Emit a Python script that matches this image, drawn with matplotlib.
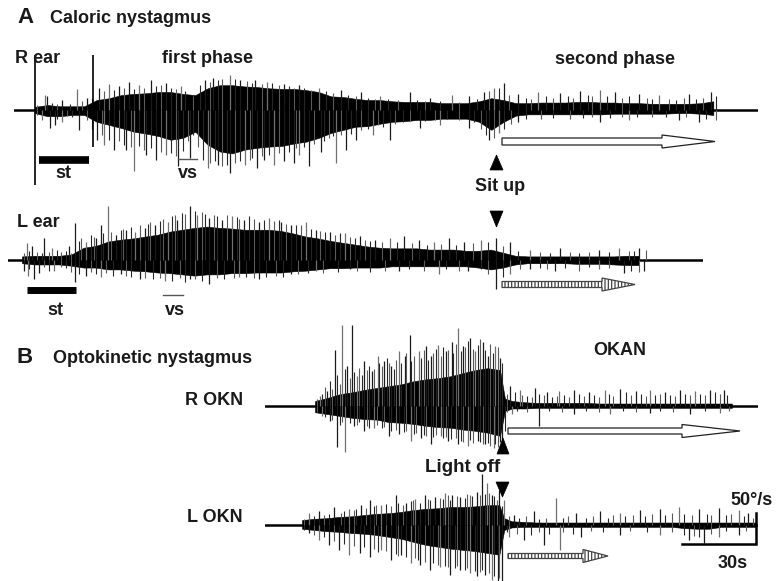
import numpy as np
import matplotlib
matplotlib.use("Agg")
import matplotlib.pyplot as plt
from matplotlib.patches import Polygon

plt.rcParams['font.family'] = ['Liberation Sans', 'DejaVu Sans']
plt.rcParams['hatch.linewidth'] = 0.9

# ---------------- data (time in s, eye velocity in deg/s) ----------------
# R ear caloric nystagmus: envelope sampled every 5 s
R_EAR_T = np.arange(0, 280, 5)
R_EAR_UP = [5, 8, 6, 6, 6, 16, 19, 24, 26, 27, 29, 29, 26, 24, 35, 40, 40, 38, 37, 35,
            34, 34, 32, 29, 22, 21, 18, 16, 16, 14, 13, 13, 13, 11, 11, 11, 14, 19, 16, 11,
            11, 12, 12, 12, 13, 13, 12, 12, 11, 11, 10, 10, 10, 10, 11, 14]
R_EAR_DN = [5, 10, 10, 8, 8, 19, 24, 29, 35, 38, 42, 48, 45, 35, 56, 67, 70, 64, 61, 59,
            58, 54, 51, 45, 37, 32, 27, 26, 22, 19, 18, 16, 16, 14, 14, 14, 19, 32, 19, 9,
            7, 7, 7, 7, 7, 7, 7, 6, 6, 6, 6, 6, 5, 5, 6, 8]
R_EAR_SPK_T = [4, 5, 11, 17, 21, 26, 30, 34, 38, 42, 47, 53, 59, 69, 72, 79, 83, 89, 94, 101,
               107, 115, 124, 132, 140, 152, 160, 169, 176, 182, 186, 190, 196, 204, 213, 221,
               229, 235, 245, 253, 265, 274,
               3, 6, 8, 11, 18, 25, 28, 32, 37, 40, 45, 49, 53, 58, 63, 70, 74, 79, 85, 90, 93,
               97, 101, 105, 107, 111, 116, 122, 126, 130, 137, 144, 156, 164, 176, 184, 188,
               196, 229, 241, 261, 269]
R_EAR_SPK_V = [24, 22, 16, 34, 19, 35, 42, 38, 45, 40, 48, 43, 38, 48, 51, 56, 48, 48, 45, 42,
               40, 35, 32, 29, 22, 29, 19, 24, 22, 29, 35, 43, 26, 29, 27, 30, 32, 29, 26, 24,
               26, 29,
               -16, -29, -24, -19, -32, -48, -56, -64, -64, -99, -72, -80, -72, -91, -77, -93,
               -88, -101, -88, -93, -80, -88, -83, -85, -72, -90, -67, -85, -64, -48, -40, -48,
               -29, -24, -29, -48, -37, -19, -19, -16, -16, -19]
R_EAR_FINE_T = [1, 7, 9, 14, 19, 23, 28, 32, 36, 40, 44, 49, 51, 55, 57, 61, 64, 67, 71, 74,
                76, 81, 86, 88, 92, 96, 99, 103, 105, 109, 112, 118, 121, 127, 130, 135, 138,
                143, 147, 155, 158, 164, 172, 179, 184, 188, 192, 199, 201, 207, 210, 216, 218,
                224, 226, 232, 238, 241, 248, 250, 257, 260, 263, 268, 271, 276,
                1, 9, 13, 15, 21, 23, 27, 30, 34, 36, 39, 42, 44, 47, 51, 55, 57, 60, 62, 64,
                66, 68, 71, 73, 76, 78, 81, 83, 87, 88, 92, 95, 99, 103, 106, 109, 113, 117,
                119, 121, 124, 128, 132, 135, 139, 141, 146, 149, 152, 158, 162, 167, 172, 178,
                181, 183, 186, 190, 193, 199, 205, 210, 217, 222, 226, 233, 238, 244, 250, 256,
                264, 272, 276]
R_EAR_FINE_V = [8, 12, 10, 10, 14, 20, 30, 32, 35, 34, 36, 38, 40, 36, 34, 30, 22, 40, 45, 48,
                50, 50, 46, 44, 42, 44, 40, 38, 36, 36, 32, 30, 28, 24, 22, 20, 18, 18, 16, 16,
                14, 14, 13, 18, 30, 36, 24, 20, 18, 22, 20, 22, 20, 24, 22, 22, 20, 22, 20, 18,
                18, 16, 20, 18, 20, 22,
                -8, -14, -10, -12, -16, -30, -40, -48, -50, -56, -60, -58, -65, -62, -68, -70,
                -75, -66, -50, -40, -60, -80, -85, -82, -90, -88, -85, -82, -80, -78, -75, -72,
                -70, -68, -62, -60, -55, -50, -45, -42, -40, -38, -32, -30, -25, -28, -22, -20,
                -18, -17, -16, -15, -16, -20, -30, -40, -45, -30, -22, -14, -14, -13, -14, -13,
                -12, -13, -12, -12, -11, -11, -11, -14, -16]
R_EAR_MARK_T = [0, 23.5]
R_EAR_MARK_LO = [-121, -60]
R_EAR_MARK_HI = [89, 89]

# L ear caloric nystagmus
L_EAR_T = np.arange(0, 255, 5)
L_EAR_UP = [5, 6, 6, 6, 8, 19, 22, 29, 32, 34, 37, 40, 45, 48, 51, 53, 51, 50, 48, 48,
            48, 46, 42, 37, 34, 30, 27, 24, 21, 19, 18, 18, 18, 16, 16, 16, 14, 14, 16, 11,
            6, 5, 5, 5, 5, 5, 5, 5, 5, 6, 6]
L_EAR_DN = [6, 8, 8, 8, 10, 13, 13, 16, 16, 18, 19, 21, 22, 24, 26, 24, 24, 22, 22, 21,
            21, 21, 19, 18, 16, 14, 14, 13, 13, 13, 11, 11, 11, 11, 11, 11, 11, 13, 16, 13,
            8, 6, 6, 6, 6, 7, 7, 7, 8, 9, 9]
L_EAR_SPK_T = [2, 4, 9, 12, 19, 21.5, 26, 30, 32, 35, 38, 42, 46, 50, 54, 59, 63, 68, 71, 76,
               81, 85, 90, 96, 100, 105, 109, 115, 119, 125, 131, 137, 143, 149, 155, 161, 167,
               173, 179, 186, 192, 198, 206, 218, 234, 242, 250,
               1, 2.4, 5, 7, 13, 21.5, 26, 32, 40, 48, 58, 68, 76, 88, 96, 109, 119, 133, 153,
               169, 181, 192, 198, 206, 216, 234, 244, 252]
L_EAR_SPK_V = [27, 22, 34, 19, 21, 59, 29, 35, 56, 86, 40, 48, 45, 51, 56, 61, 64, 86, 72, 67,
               64, 70, 64, 61, 67, 61, 56, 61, 48, 45, 42, 38, 32, 35, 38, 32, 29, 35, 29, 32,
               35, 29, 16, 19, 16, 19, 19,
               -19, -26, -32, -22, -18, -37, -26, -29, -24, -32, -35, -32, -40, -29, -32, -24,
               -19, -16, -19, -24, -19, -48, -24, -16, -19, -16, -22, -19]
L_EAR_FINE_T = [1, 3, 6, 8, 11, 14, 16, 18, 20, 23, 24, 28, 29, 33, 36, 40, 41, 44, 48, 51,
                52, 56, 57, 61, 62, 65, 66, 70, 73, 74, 78, 79, 83, 87, 88, 92, 94, 98, 102,
                104, 107, 111, 113, 117, 121, 123, 127, 129, 133, 135, 139, 141, 146, 152, 158,
                164, 170, 176, 183, 189, 195, 201, 210, 214, 222, 226, 230, 238, 246, 248, 253,
                3, 9, 11, 16, 18, 20, 23, 28, 30, 34, 37, 42, 44, 50, 53, 56, 61, 64, 66, 70,
                73, 79, 82, 86, 91, 94, 99, 103, 106, 112, 116, 122, 128, 136, 141, 147, 157,
                163, 172, 177, 186, 189, 195, 202, 210, 213, 220, 226, 230, 238, 247, 250]
L_EAR_FINE_V = [10, 14, 12, 10, 12, 16, 12, 14, 10, 30, 35, 40, 36, 42, 45, 48, 50, 52, 56, 58,
                60, 62, 66, 70, 72, 75, 74, 78, 76, 74, 72, 70, 72, 68, 66, 70, 66, 64, 62, 64,
                58, 55, 56, 50, 46, 44, 40, 42, 36, 34, 32, 30, 28, 28, 26, 24, 25, 24, 26, 28,
                22, 14, 12, 10, 12, 10, 12, 12, 14, 14, 16,
                -16, -12, -18, -12, -14, -20, -24, -20, -24, -22, -26, -26, -28, -30, -32, -30,
                -34, -30, -36, -32, -34, -30, -32, -30, -28, -30, -28, -26, -28, -24, -22, -22,
                -20, -18, -20, -18, -16, -18, -16, -18, -16, -24, -28, -16, -14, -16, -14, -18,
                -12, -14, -18, -20]

# R optokinetic nystagmus (light off at ~76 s)
R_OKN_T = [0, 5, 10, 15, 20, 25, 30, 35, 40, 45, 50, 55, 60, 65, 70, 75, 77, 80, 85, 90,
           95, 100, 105, 110, 115, 120, 125, 130, 135, 140, 145, 150, 155, 160, 165, 169]
R_OKN_UP = [8, 13, 19, 22, 26, 29, 32, 35, 40, 43, 45, 48, 53, 58, 61, 58, 12, 8, 6, 5,
            5, 5, 5, 5, 4, 4, 4, 4, 4, 4, 4, 4, 4, 4, 4, 4]
R_OKN_DN = [10, 13, 16, 19, 21, 22, 26, 27, 29, 32, 34, 35, 38, 40, 43, 48, 8, 4, 4, 3,
            3, 3, 3, 3, 3, 3, 3, 3, 3, 3, 3, 3, 3, 3, 3, 3]
R_OKN_SPK_T = [2, 5, 8, 11, 13, 15, 17, 20, 23, 25.5, 28, 31, 34, 36.5, 38.5, 42, 45, 47, 50,
               53, 55.5, 58, 60, 63, 65, 68, 70, 73, 75, 79, 83, 89, 94, 99, 105, 111, 117.5,
               123.5, 130, 136, 142, 148, 154, 160, 166,
               3, 6, 9, 12, 16, 20, 24, 30, 34, 39, 43, 47, 51, 54, 58, 62, 66, 69, 72.5, 75,
               76, 80, 91, 105, 119.5, 136, 152, 164]
R_OKN_SPK_V = [16, 24, 90, 130, 64, 130, 48, 72, 56, 80, 72, 64, 88, 80, 114, 88, 96, 80, 99,
               88, 104, 126, 96, 110, 88, 104, 80, 96, 77, 32, 26, 29, 22, 24, 26, 22, 26, 27,
               24, 26, 22, 26, 24, 26, 26,
               -16, -24, -66, -74, -32, -40, -35, -48, -45, -56, -51, -61, -48, -56, -61, -64,
               -56, -61, -67, -58, -59, -13, -32, -13, -13, -11, -13, -11]
R_OKN_FINE_T = [1, 3, 4, 6, 7, 9, 10, 12, 14, 16, 18, 19, 21, 22, 24, 26, 27, 29, 30, 32,
                33, 35, 37, 39, 40, 43, 44, 46, 48, 49, 51, 52, 54, 56, 57, 59, 61, 62, 64, 66,
                67, 69, 71, 72, 74, 76, 78, 81, 84, 86, 88, 91, 93, 96, 98, 101, 103, 107, 109,
                113, 115, 119, 121, 126, 128, 132, 134, 138, 140, 144, 146, 150, 152, 156, 158,
                162, 164, 167,
                1, 4, 7, 10, 11, 14, 17, 18, 21, 22, 25, 27, 28, 31, 33, 36, 37, 40, 41, 44,
                45, 48, 49, 52, 53, 55, 57, 59, 60, 63, 64, 67, 68, 70, 71, 73, 74, 77, 78, 82,
                86, 95, 100, 110, 115, 125, 130, 140, 145, 158, 168]
R_OKN_FINE_V = [12, 20, 30, 40, 28, 50, 35, 60, 45, 55, 62, 50, 58, 65, 60, 70, 64, 78, 70, 60,
                75, 70, 85, 72, 80, 78, 90, 74, 85, 92, 80, 95, 90, 85, 100, 88, 95, 105, 92, 98,
                108, 90, 100, 85, 95, 70, 20, 22, 18, 16, 14, 20, 18, 14, 16, 18, 14, 20, 16,
                18, 14, 20, 16, 22, 18, 20, 16, 18, 20, 18, 16, 20, 18, 20, 18, 22, 20, 18,
                -10, -18, -22, -30, -25, -28, -30, -26, -32, -35, -30, -36, -34, -40, -38, -42,
                -40, -45, -44, -46, -48, -50, -46, -52, -50, -54, -52, -56, -58, -55, -60, -58,
                -62, -60, -64, -62, -66, -40, -10, -8, -10, -8, -9, -8, -10, -8, -9, -8, -10,
                -8, -8]

# L optokinetic nystagmus
L_OKN_T = [0, 5, 10, 15, 20, 25, 30, 35, 40, 45, 50, 55, 60, 65, 70, 75, 80, 82, 85, 90,
           95, 100, 105, 110, 115, 120, 125, 130, 135, 140, 145, 150, 155, 160, 165, 170,
           175, 180, 184]
L_OKN_UP = [8, 10, 11, 13, 14, 16, 18, 19, 21, 24, 26, 27, 29, 29, 30, 32, 32, 11, 6, 5,
            4, 4, 4, 4, 4, 4, 4, 4, 4, 4, 4, 4, 4, 4, 4, 4, 4, 4, 4]
L_OKN_DN = [6, 8, 10, 11, 13, 14, 16, 19, 22, 27, 32, 35, 38, 40, 42, 45, 48, 8, 4, 3,
            3, 3, 3, 3, 3, 3, 3, 3, 3, 3, 3, 3, 5, 6, 6, 3, 3, 3, 3]
L_OKN_SPK_T = [3, 7, 13, 19, 24, 27.5, 32, 38, 42, 46, 50, 54, 58, 61, 64, 68, 71, 73, 75, 77,
               80, 82, 86, 94, 103, 111, 121, 129, 137, 145, 153, 161, 169, 177, 181,
               3, 7, 11, 15, 19, 23.5, 27.5, 32, 36, 40, 44, 48, 52, 56, 60, 64, 68, 71, 74,
               77, 79.5, 81, 84, 90, 98, 104.5, 113, 129, 145, 157, 163, 169, 177]
L_OKN_SPK_V = [19, 22, 29, 26, 32, 40, 32, 48, 35, 42, 48, 45, 51, 48, 45, 48, 54, 83, 67, 48,
               56, 40, 16, 22, 43, 19, 22, 19, 24, 26, 29, 26, 27, 24, 19,
               -13, -24, -32, -40, -48, -45, -51, -40, -56, -48, -61, -64, -72, -67, -80, -72,
               -77, -83, -80, -88, -91, -91, -19, -24, -32, -40, -19, -16, -16, -24, -29, -19,
               -16]
L_OKN_FINE_T = [1, 5, 9, 11, 16, 17, 21, 22, 26, 29, 30, 34, 36, 39, 41, 44, 45, 48, 51, 52,
                56, 57, 59, 60, 63, 66, 67, 69, 72, 74, 76, 78, 79, 81, 84, 88, 91, 96, 99, 106,
                108, 115, 118, 124, 126, 131, 134, 139, 142, 147, 150, 155, 158, 164, 166, 172,
                174, 179, 183,
                1, 5, 9, 13, 17, 21, 25, 29, 31, 34, 38, 39, 42, 46, 47, 50, 53, 55, 58, 59,
                62, 63, 66, 67, 70, 72, 73, 76, 78, 80, 83, 87, 93, 96, 100, 106, 110, 117, 122,
                133, 140, 150, 155, 159, 161, 166, 172, 180]
L_OKN_FINE_V = [10, 14, 16, 18, 20, 22, 24, 26, 28, 30, 32, 34, 30, 36, 32, 38, 40, 36, 42, 40,
                44, 42, 48, 40, 46, 44, 50, 46, 48, 50, 52, 46, 40, 30, 14, 12, 14, 10, 12, 12,
                14, 12, 14, 12, 16, 14, 16, 14, 18, 16, 20, 18, 16, 18, 16, 16, 18, 14, 12,
                -8, -16, -20, -26, -30, -34, -36, -38, -44, -42, -46, -50, -52, -54, -56, -60,
                -62, -64, -66, -68, -70, -66, -72, -70, -74, -76, -72, -78, -82, -86, -12, -14,
                -16, -12, -14, -12, -14, -10, -12, -10, -12, -12, -16, -18, -20, -14, -10, -10]

SCALE_T = 30   # s
SCALE_V = 50   # deg/s

# ---------------- layout ----------------
W, H = 781, 581
fig = plt.figure(figsize=(W / 100, H / 100), dpi=100)
fig.patch.set_facecolor('white')
PX_S = 74 / 30.0      # pixels per second
PX_V = 31 / 50.0      # pixels per deg/s


def trace_ax(x0, base, t_lo, t_hi, v_lo, v_hi):
    left = x0 + t_lo * PX_S
    right = x0 + t_hi * PX_S
    top = base - v_hi * PX_V
    bottom = base - v_lo * PX_V
    ax = fig.add_axes([left / W, 1 - bottom / H, (right - left) / W, (bottom - top) / H])
    ax.set_xlim(t_lo, t_hi)
    ax.set_ylim(v_lo, v_hi)
    ax.axis('off')
    return ax


def draw_trace(ax, t, up, dn, spk_t, spk_v, fine_t, fine_v):
    ax.axhline(0, color='black', lw=1.8, zorder=1)
    ax.fill_between(t, np.asarray(up), -np.asarray(dn), color='black', lw=0.4, zorder=2)
    cols = ['#1a1a1a' if i % 3 else '#707070' for i in range(len(spk_t))]
    ax.vlines(spk_t, 0, spk_v, colors=cols, lw=0.9, zorder=3)
    cols2 = ['#262626' if i % 2 else '#5a5a5a' for i in range(len(fine_t))]
    ax.vlines(fine_t, 0, fine_v, colors=cols2, lw=0.8, zorder=3)


ax1 = trace_ax(35, 110, -21 / PX_S, 723 / PX_S, -125, 95)
draw_trace(ax1, R_EAR_T, R_EAR_UP, R_EAR_DN, R_EAR_SPK_T, R_EAR_SPK_V,
           R_EAR_FINE_T, R_EAR_FINE_V)
ax1.vlines(R_EAR_MARK_T, R_EAR_MARK_LO, R_EAR_MARK_HI, colors='black', lw=1.2, zorder=4)

ax2 = trace_ax(22, 259.5, -14 / PX_S, 681 / PX_S, -60, 95)
draw_trace(ax2, L_EAR_T, L_EAR_UP, L_EAR_DN, L_EAR_SPK_T, L_EAR_SPK_V,
           L_EAR_FINE_T, L_EAR_FINE_V)

ax3 = trace_ax(315, 406, -50 / PX_S, 443 / PX_S, -80, 135)
draw_trace(ax3, R_OKN_T, R_OKN_UP, R_OKN_DN, R_OKN_SPK_T, R_OKN_SPK_V,
           R_OKN_FINE_T, R_OKN_FINE_V)

t_end = L_OKN_T[-1]
ax4 = trace_ax(302, 525, -37 / PX_S, t_end + 1, -95, 90)
draw_trace(ax4, L_OKN_T, L_OKN_UP, L_OKN_DN, L_OKN_SPK_T, L_OKN_SPK_V,
           L_OKN_FINE_T, L_OKN_FINE_V)
ax4.plot([t_end - SCALE_T, t_end, t_end], [-31, -31, -31 + SCALE_V],
         color='black', lw=1.8, solid_joinstyle='miter', zorder=5)

# ---------------- overlay annotations (pixel coordinates) ----------------
ov = fig.add_axes([0, 0, 1, 1])
ov.set_xlim(0, W)
ov.set_ylim(H, 0)
ov.axis('off')

bold = dict(fontweight='bold', color='#1a1a1a')
ov.text(17, 23, 'A', fontsize=16, **bold)
ov.text(50, 23, 'Caloric nystagmus', fontsize=13, **bold)
ov.text(15, 63, 'R ear', fontsize=13, **bold)
ov.text(162, 63, 'first phase', fontsize=13, **bold)
ov.text(555, 64, 'second phase', fontsize=13, **bold)
ov.text(55, 178, 'st', fontsize=13, **bold)
ov.text(178, 178, 'vs', fontsize=13, **bold)
ov.text(500, 191, 'Sit up', fontsize=13, ha='center', **bold)
ov.text(17, 227, 'L ear', fontsize=13, **bold)
ov.text(47, 315, 'st', fontsize=13, **bold)
ov.text(165, 315, 'vs', fontsize=13, **bold)
ov.text(17, 363, 'B', fontsize=16, **bold)
ov.text(53, 363, 'Optokinetic nystagmus', fontsize=13, **bold)
ov.text(593, 355, 'OKAN', fontsize=13, **bold)
ov.text(243, 405, 'R OKN', fontsize=13, ha='right', **bold)
ov.text(243, 522, 'L OKN', fontsize=13, ha='right', **bold)
ov.text(463, 472, 'Light off', fontsize=13.5, ha='center', **bold)
ov.text(730, 505, '50°/s', fontsize=13, **bold)
ov.text(718, 568, '30s', fontsize=13, **bold)

# stimulus bars
ov.plot([39, 89], [160, 160], color='black', lw=5.5, solid_capstyle='butt')
ov.plot([178, 197], [159, 159], color='#555555', lw=1.0)
ov.plot([27, 76], [290, 290], color='black', lw=5, solid_capstyle='butt')
ov.plot([163, 183], [295, 295], color='#555555', lw=1.0)


def tri(xc, y_apex, y_base, half):
    ov.add_patch(Polygon([(xc - half, y_base), (xc + half, y_base), (xc, y_apex)],
                         closed=True, facecolor='black', edgecolor='black', lw=0.5))


tri(496.5, 155, 170, 6.5)
tri(496.5, 227, 211, 6.5)
tri(503, 438, 454, 6)
tri(502.5, 497, 482, 6.5)


def arrow(x0, x1, xh, yc, hs, hh, hatch=None):
    verts = [(x0, yc - hs), (xh, yc - hs), (xh, yc - hh), (x1, yc),
             (xh, yc + hh), (xh, yc + hs), (x0, yc + hs)]
    if hatch:
        ov.add_patch(Polygon(verts, closed=True, facecolor='white', edgecolor='#444444',
                             hatch=hatch, lw=0.9))
    else:
        ov.add_patch(Polygon(verts, closed=True, facecolor='white', edgecolor='#222222', lw=0.9))


arrow(502, 715, 662, 141.5, 3.5, 6.5)
arrow(502, 635, 602, 284.5, 3, 6.5, hatch='|||||')
arrow(508, 740, 682, 431, 3, 6.5)
arrow(508, 608, 583, 556, 2.5, 6.5, hatch='|||||')

fig.savefig('out.png', dpi=100, facecolor='white')
